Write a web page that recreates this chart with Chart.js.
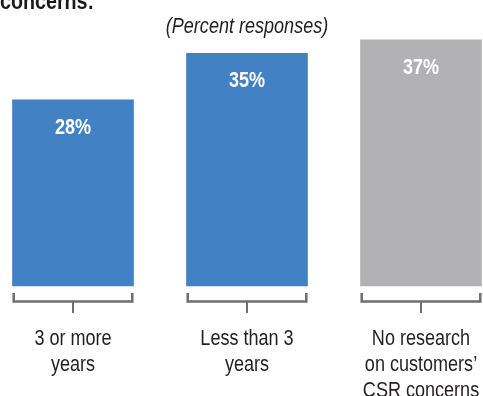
<!DOCTYPE html>
<html>
<head>
<meta charset="utf-8">
<script src="https://cdn.jsdelivr.net/npm/chart.js@4/dist/chart.umd.min.js"></script>
<style>
  html, body { margin: 0; padding: 0; background: #ffffff; }
  #wrap { position: relative; width: 483px; height: 396px; }
</style>
</head>
<body>
<div id="wrap"><canvas id="c"></canvas></div>
<script>
const categories = ["3 or more years", "Less than 3 years", "No research on customers' CSR concerns"];
const categoryLines = [["3 or more", "years"], ["Less than 3", "years"], ["No research", "on customers\u2019", "CSR concerns"]];
const values = [28, 35, 37];
const valueLabels = ["28%", "35%", "37%"];
const barColors = ["#4281c4", "#4281c4", "#b2b2b4"];
const titleText = "concerns:";
const subtitleText = "(Percent responses)";

const FONT = "'Liberation Sans', Arial, sans-serif";
const NARROW = 0.82;

function narrowText(ctx, text, x, y, font, align, color) {
  ctx.save();
  ctx.translate(x, y);
  ctx.scale(NARROW, 1);
  ctx.font = font;
  ctx.textAlign = align;
  ctx.textBaseline = 'alphabetic';
  ctx.fillStyle = color;
  ctx.fillText(text, 0, 0);
  ctx.restore();
}

const decorPlugin = {
  id: 'decor',
  afterDatasetsDraw(chart) {
    const ctx = chart.ctx;
    const meta = chart.getDatasetMeta(0);
    ctx.save();
    // title (cut off at top)
    narrowText(ctx, titleText, 0, 9, "bold 24px " + FONT, 'left', '#1a1a1a');
    // subtitle
    narrowText(ctx, subtitleText, 247, 33, "italic 22px " + FONT, 'center', '#231f20');

    meta.data.forEach((bar, i) => {
      const props = bar.getProps(['x', 'y', 'base', 'width'], true);
      const left = props.x - props.width / 2;
      const right = props.x + props.width / 2;
      // value label
      narrowText(ctx, valueLabels[i], props.x, props.y + 34, "bold 22px " + FONT, 'center', '#ffffff');
      // bracket
      const b = props.base;
      ctx.strokeStyle = '#6d6e71';
      ctx.lineWidth = 2.5;
      ctx.beginPath();
      ctx.moveTo(left + 1.2, b + 7);
      ctx.lineTo(left + 1.2, b + 15.5);
      ctx.lineTo(right - 1.2, b + 15.5);
      ctx.lineTo(right - 1.2, b + 7);
      ctx.stroke();
      ctx.beginPath();
      ctx.lineWidth = 2;
      ctx.moveTo(props.x, b + 15.5);
      ctx.lineTo(props.x, b + 27);
      ctx.stroke();
      // category labels
      categoryLines[i].forEach((ln, j) => {
        narrowText(ctx, ln, props.x, b + 59 + j * 26, "22px " + FONT, 'center', '#231f20');
      });
    });
    ctx.restore();
  }
};

new Chart(document.getElementById('c'), {
  type: 'bar',
  data: {
    labels: categories,
    datasets: [{
      data: values,
      backgroundColor: barColors,
      borderWidth: 0,
      barThickness: 121,
      clip: false
    }]
  },
  options: {
    responsive: true,
    maintainAspectRatio: false,
    animation: false,
    events: [],
    layout: { padding: { left: 73, right: 62, top: 20, bottom: 110 } },
    plugins: { legend: { display: false }, tooltip: { enabled: false }, title: { display: false } },
    scales: {
      x: { type: 'category', offset: false, display: false },
      y: { display: false, min: 0, max: 40 }
    }
  },
  plugins: [decorPlugin]
});
</script>
</body>
</html>
